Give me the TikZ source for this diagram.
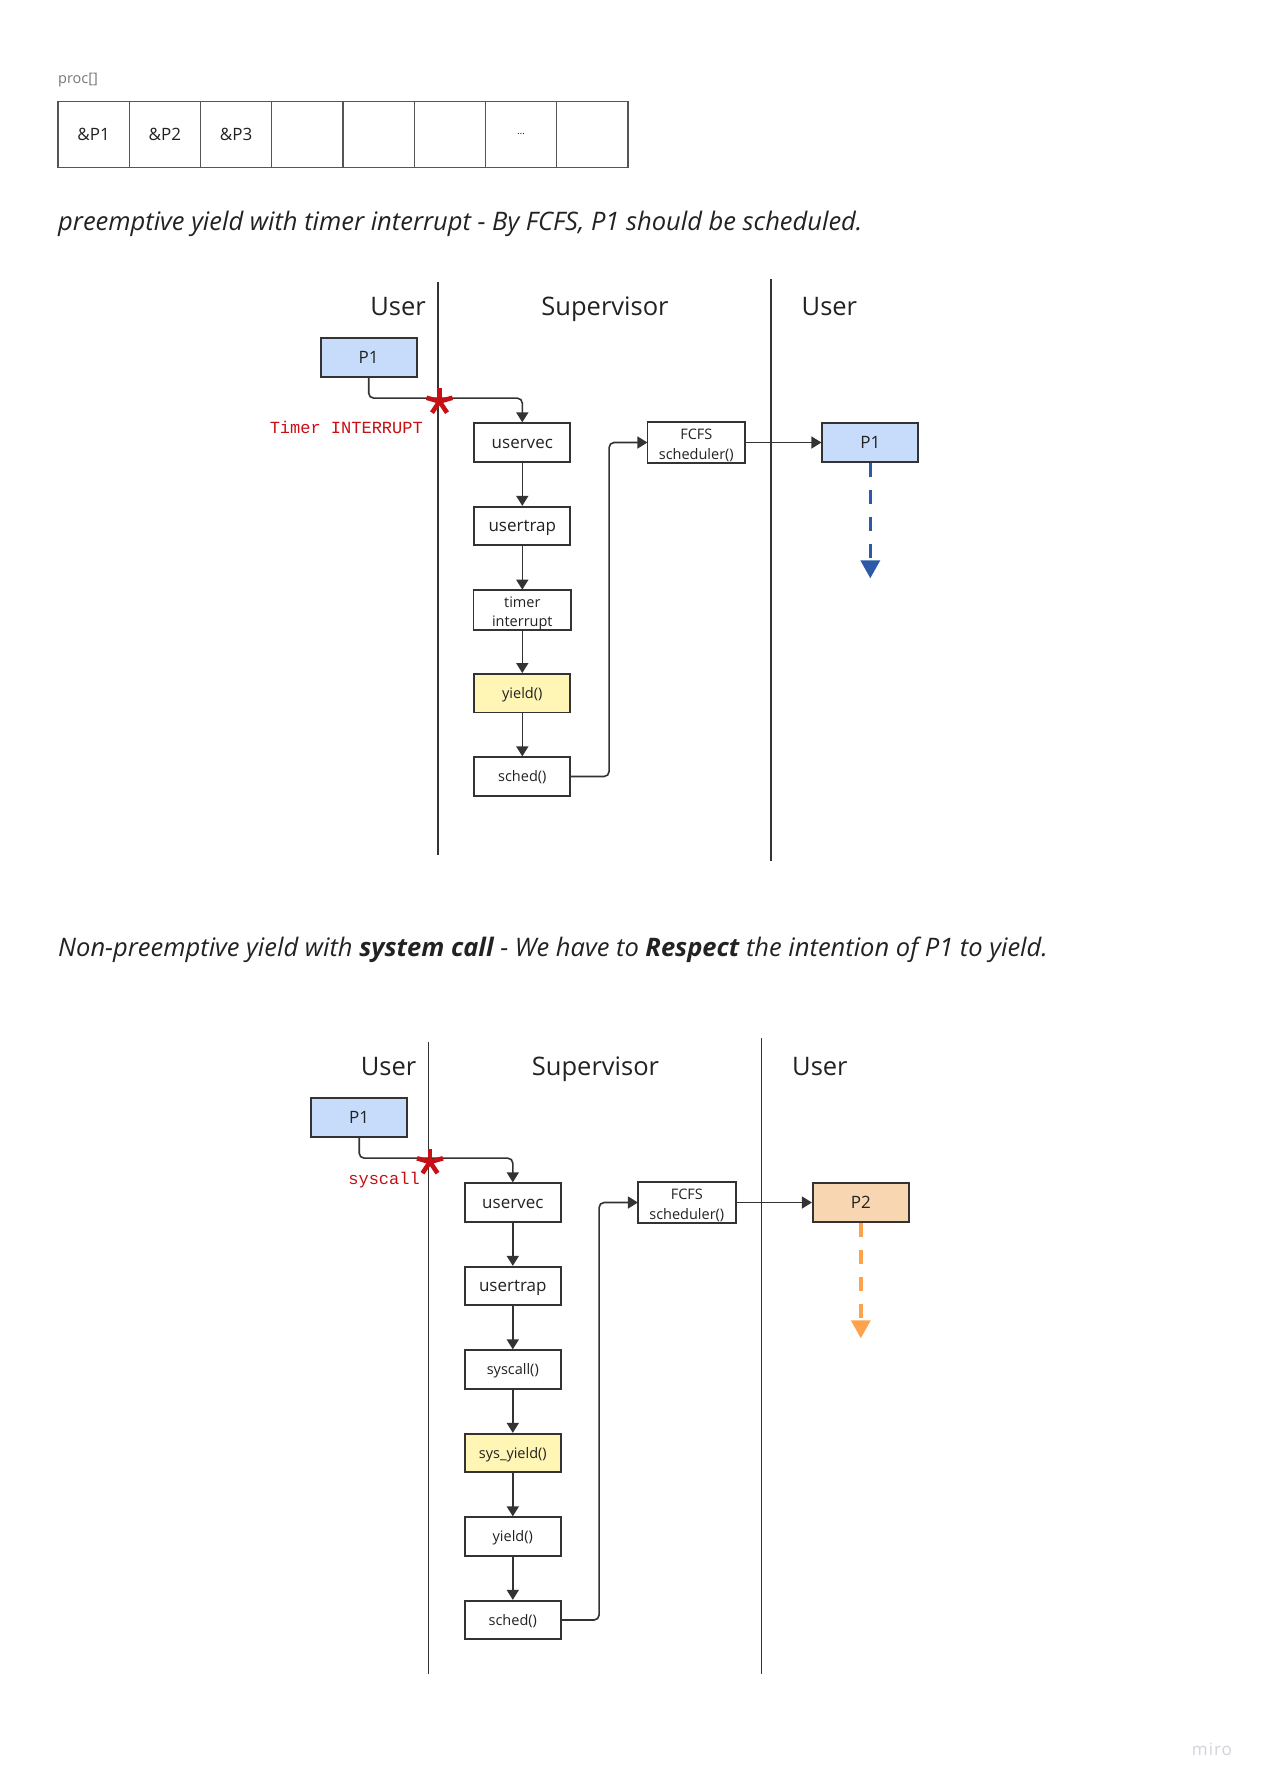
\documentclass[tikz,border=0pt]{standalone}
\usepackage{fontspec}
\setmainfont{Open Sans}
\newfontfamily\monofnt{Liberation Mono}
\usetikzlibrary{arrows.meta,calc}
\definecolor{linec}{HTML}{333333}
\definecolor{textc}{HTML}{222222}
\definecolor{arrc}{HTML}{555555}
\definecolor{procc}{HTML}{777777}
\definecolor{blfill}{HTML}{C7DCFA}
\definecolor{yefill}{HTML}{FFF5B5}
\definecolor{orfill}{HTML}{F8D6B2}
\definecolor{bldash}{HTML}{2D5AA8}
\definecolor{ordash}{HTML}{FFA24C}
\definecolor{redc}{HTML}{C80F14}
\definecolor{miroc}{HTML}{D2D2DE}
\newcommand\fsHead{\fontsize{25.5}{30}\selectfont}
\newcommand\fsTitle{\fontsize{25.5}{30}\selectfont\itshape}
\newcommand\fsBox{\fontsize{17}{20}\selectfont}
\newcommand\fsSm{\fontsize{14.5}{19}\selectfont}
\newcommand\fsMono{\monofnt\fontsize{17}{20}\selectfont}
\newcommand\fsProc{\fontsize{14.5}{17}\selectfont}
\tikzset{
  bx/.style={draw=linec, line width=1.8pt, minimum width=96pt, minimum height=38.5pt, inner sep=0pt, text=textc},
  bxbig/.style={bx, font=\fsBox, text height=15pt, text depth=4pt},
  bxsm/.style={bx, font=\fsSm, text height=14pt, text depth=3.5pt},
  bxopen/.style={bxsm, draw=none},
  boxline/.style={draw=linec, line width=1.8pt},
  ln/.style={text=textc, font=\fsSm, inner sep=0pt, anchor=base},
  conn/.style={draw=linec, line width=1.6pt, rounded corners=5pt, -{Triangle[length=10pt,width=12pt]}},
  lane/.style={draw=linec, line width=1.6pt},
  head/.style={font=\fsHead, text=textc, inner sep=0pt},
  title/.style={font=\fsTitle, text=textc, inner sep=0pt, anchor=base west},
  redlab/.style={font=\fsMono, text=redc, inner sep=0pt, anchor=east},
  starred/.style={draw=redc, line width=4.6pt, line cap=butt},
  cell/.style={draw=arrc, line width=1.3pt, minimum width=71.25pt, minimum height=66pt, inner sep=0pt, font=\fsBox, text=textc},
  bluearrow/.style={draw=bldash, line width=3.5pt, dash pattern=on 14pt off 13pt, -{Triangle[length=18pt,width=19pt]}},
  orangearrow/.style={draw=ordash, line width=3.5pt, dash pattern=on 14pt off 13pt, -{Triangle[length=18pt,width=19pt]}},
}
\begin{document}
\begin{tikzpicture}[x=1pt,y=-1pt]
\useasboundingbox (0,0) rectangle (1261,1783);
\fill[white] (0,0) rectangle (1261,1783);

% ---------- proc[] array ----------
\node[font=\fsProc, text=procc, anchor=west, inner sep=0pt] (proc) at (58,80.5) {proc[]};
\node[cell] (c1) at (93.6,134.2) {\&P1};
\node[cell] (c2) at (164.9,134.2) {\&P2};
\node[cell] (c3) at (236.1,134.2) {\&P3};
\node[cell] (c4) at (307.4,134.2) {};
\node[cell] (c5) at (378.6,134.2) {};
\node[cell] (c6) at (449.9,134.2) {};
\node[cell, font=\fontsize{10}{12}\selectfont] (c7) at (521.1,134.2) {…};
\node[cell] (c8) at (592.4,134.2) {};

% ---------- headings ----------
\node[title] (h1) at (58,230) {preemptive yield with timer interrupt - By FCFS, P1 should be scheduled.};
\node[title] (h2) at (58,956) {Non-preemptive yield with \textbf{system call} - We have to \textbf{Respect} the intention of P1 to yield.};

% ---------- diagram 1 ----------
\draw[lane] (438,281.5) -- (438,855);
\draw[lane] (771,279) -- (771,861);
\node[head, anchor=base east] (ua) at (426,315.5) {User};
\node[head, anchor=base] (sa) at (605,315.5) {Supervisor};
\node[head, anchor=base west] (ura) at (801.5,315.5) {User};

\node[bxbig, fill=blfill] (pa) at (368.7,357.5) {P1};
\node[bxbig] (uva) at (522.3,442.5) {uservec};
\node[bxbig] (uta) at (522.3,526) {usertrap};
\node[bxopen] (tia) at (522.3,609.8) {};
\node[bxsm, fill=yefill] (yia) at (522.3,693.2) {yield()};
\node[bxsm] (sca) at (522.3,776.5) {sched()};
\node[bxopen] (fca) at (696.3,442.5) {};
\node[bxbig, fill=blfill] (pb) at (870.3,442.5) {P1};

\begin{scope}
  \clip (tia.south west) rectangle (tia.north east);
  \node[ln] (tia1) at ([yshift=2.8pt]tia.center) {timer};
  \node[ln] (tia2) at ([yshift=-17pt]tia.center) {interrupt};
\end{scope}
\draw[boxline] (tia.south west) rectangle (tia.north east);
\begin{scope}
  \clip (fca.south west) rectangle (fca.north east);
  \node[ln] (fca1) at ([yshift=2.8pt]fca.center) {FCFS};
  \node[ln] (fca2) at ([yshift=-17pt]fca.center) {scheduler()};
\end{scope}
\draw[boxline] (fca.south west) rectangle (fca.north east);

\draw[conn] (pa.south) |- ([yshift=24.2pt]uva.north) -- (uva.north);
\draw[conn] (uva) -- (uta);
\draw[conn] (uta) -- (tia);
\draw[conn] (tia) -- (yia);
\draw[conn] (yia) -- (sca);
\draw[conn] (sca.east) -| ([xshift=-38.3pt]fca.west) -- (fca.west);
\draw[conn] (fca) -- (pb);
\coordinate (enda) at (870.3,578.3);
\draw[bluearrow] (pb.south) -- (enda);

\coordinate (sta) at (439.5,401.5);
\foreach \a in {90,16,164,236,304} \draw[starred] (sta) -- ++(\a:13.5pt);
\node[redlab] (tint) at (423,427) {Timer INTERRUPT};

% ---------- diagram 2 ----------
\begin{scope}[shift={(-9.5,760)}]
\draw[lane] (438,281.5) -- (438,914);
\draw[lane] (771,278) -- (771,914);
\node[head, anchor=base east] (ub) at (426,315.5) {User};
\node[head, anchor=base] (sb) at (605,315.5) {Supervisor};
\node[head, anchor=base west] (urb) at (801.5,315.5) {User};

\node[bxbig, fill=blfill] (pc) at (368.7,357.5) {P1};
\node[bxbig] (uvb) at (522.3,442.5) {uservec};
\node[bxbig] (utb) at (522.3,526) {usertrap};
\node[bxsm] (syb) at (522.3,609.5) {syscall()};
\node[bxsm, fill=yefill] (syyb) at (522.3,693) {sys\_yield()};
\node[bxsm] (yib) at (522.3,776.5) {yield()};
\node[bxsm] (scb) at (522.3,860) {sched()};
\node[bxopen] (fcb) at (696.3,442.5) {};
\node[bxbig, fill=orfill] (p2) at (870.3,442.5) {P2};

\begin{scope}
  \clip (fcb.south west) rectangle (fcb.north east);
  \node[ln] (fcb1) at ([yshift=2.8pt]fcb.center) {FCFS};
  \node[ln] (fcb2) at ([yshift=-17pt]fcb.center) {scheduler()};
\end{scope}
\draw[boxline] (fcb.south west) rectangle (fcb.north east);

\draw[conn] (pc.south) |- ([yshift=24.2pt]uvb.north) -- (uvb.north);
\draw[conn] (uvb) -- (utb);
\draw[conn] (utb) -- (syb);
\draw[conn] (syb) -- (syyb);
\draw[conn] (syyb) -- (yib);
\draw[conn] (yib) -- (scb);
\draw[conn] (scb.east) -| ([xshift=-38.8pt]fcb.west) -- (fcb.west);
\draw[conn] (fcb) -- (p2);
\coordinate (endb) at (870.3,578.3);
\draw[orangearrow] (p2.south) -- (endb);

\coordinate (stb) at (439.5,402);
\foreach \a in {90,16,164,236,304} \draw[starred] (stb) -- ++(\a:13.5pt);
\node[redlab] (sysl) at (429.5,420) {syscall};
\end{scope}

% ---------- watermark ----------
\node[font=\fontsize{17}{20}\selectfont\addfontfeatures{LetterSpace=6}, text=miroc, inner sep=0pt] (miro) at (1212,1749) {miro};
\end{tikzpicture}
\end{document}
